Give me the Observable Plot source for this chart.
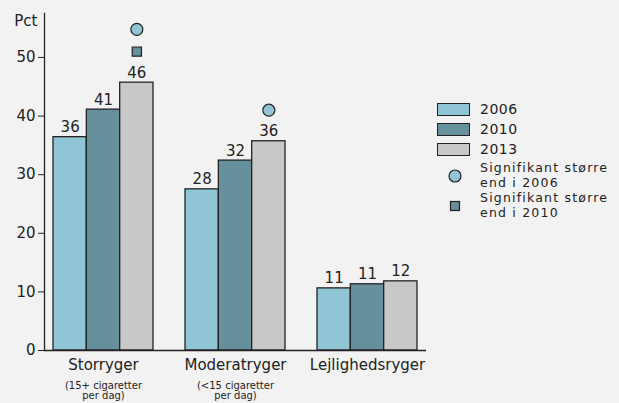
<!DOCTYPE html>
<html><head><meta charset="utf-8">
<script src="https://cdn.jsdelivr.net/npm/d3@7"></script>
<script src="https://cdn.jsdelivr.net/npm/@observablehq/plot@0.6"></script>
<style>
body{margin:0;background:#f2f2f2;}
#wrap{position:relative;width:619px;height:403px;font-family:"DejaVu Sans",sans-serif;color:#222;background:#f2f2f2;}
#legend{position:absolute;left:437px;top:102px;font-size:14px;}
.row{position:absolute;left:0;white-space:nowrap;display:flex;align-items:center;}
.sw{width:33px;height:13px;border:1px solid #222;box-sizing:border-box;}
.lt{margin-left:10px;line-height:14px;letter-spacing:0.5px;}
.lt2{margin-left:10px;font-size:12.5px;line-height:14.6px;letter-spacing:1.2px;}
</style></head><body><div id="wrap"><div id="legend"></div></div>
<script>
const categories = ["Storryger", "Moderatryger", "Lejlighedsryger"];
const subLabels = ["(15+ cigaretter\nper dag)", "(<15 cigaretter\nper dag)", ""];
const years = ["2006", "2010", "2013"];
const values2006 = [36.4, 27.5, 10.6];
const values2010 = [41.1, 32.4, 11.3];
const values2013 = [45.7, 35.7, 11.8];
const valueLabels2006 = ["36", "28", "11"];
const valueLabels2010 = ["41", "32", "11"];
const valueLabels2013 = ["46", "36", "12"];
// significance markers above the 2013 bars
const sigVs2006 = [54.8, 41.0, null];
const sigVs2010 = [51.0, null, null];
const colors = ["#8fc5d5", "#66909c", "#c8c8c8"];
const yTicks = [0, 10, 20, 30, 40, 50];

const series = [values2006, values2010, values2013];
const seriesLabels = [valueLabels2006, valueLabels2010, valueLabels2013];
const data = [];
categories.forEach((c, i) => years.forEach((yr, j) => data.push({cat: c, year: yr, value: series[j][i], label: seriesLabels[j][i]})));
const subData = categories.map((c, i) => ({cat: c, sub: subLabels[i]}));
const sig1 = categories.map((c, i) => ({cat: c, v: sigVs2006[i]})).filter(d => d.v != null);
const sig2 = categories.map((c, i) => ({cat: c, v: sigVs2010[i]})).filter(d => d.v != null);

const xOpts = {type: "band", domain: categories, range: [44, 426], paddingInner: 0.245, paddingOuter: 0.064};
const bw = Plot.scale({x: xOpts}).bandwidth;
const third = bw / 3;
const font = "DejaVu Sans, sans-serif";
const ink = "#222";

const barMarks = years.map((yr, j) => Plot.barY(data.filter(d => d.year === yr), {
  x: "cat", y: "value", fill: colors[j], stroke: ink, strokeWidth: 1.3,
  insetLeft: j * third, insetRight: (2 - j) * third
}));
const labelMarks = years.map((yr, j) => Plot.text(data.filter(d => d.year === yr), {
  x: "cat", y: "value", text: "label", dx: (j - 1) * third, dy: -5, lineAnchor: "bottom", fontSize: 15, fill: ink
}));

const plot = Plot.plot({
  width: 619, height: 403,
  marginLeft: 44, marginRight: 193, marginTop: 13, marginBottom: 53,
  style: {background: "transparent", fontFamily: font, fontSize: "15px", color: ink, overflow: "visible"},
  x: {...xOpts, axis: null},
  y: {domain: [0, 57.5], axis: null},
  marks: [
    ...barMarks,
    Plot.ruleY([0], {stroke: ink, strokeWidth: 1.3}),
    Plot.axisY({ticks: yTicks, tickSize: 6, tickPadding: 3, label: null, fontSize: 15, stroke: ink, fill: ink}),
    Plot.frame({anchor: "left", stroke: ink, strokeWidth: 1.3}),
    Plot.axisX({tickSize: 0, tickPadding: 9, fontSize: 15, fill: ink, label: null}),
    Plot.text(subData, {x: "cat", text: "sub", frameAnchor: "bottom", dy: 31, lineAnchor: "top", fontSize: 10, lineHeight: 1.0, fill: ink}),
    ...labelMarks,
    Plot.dot(sig1, {x: "cat", y: "v", dx: third, r: 6, fill: colors[0], stroke: ink, strokeWidth: 1.2}),
    Plot.dot(sig2, {x: "cat", y: "v", dx: third, r: 5.2, symbol: "square", fill: colors[1], stroke: ink, strokeWidth: 1.2}),
    Plot.text(["Pct"], {frameAnchor: "top-left", dx: -7, dy: 8, textAnchor: "end", lineAnchor: "middle", fontSize: 15, fill: ink})
  ]
});
const wrap = document.getElementById("wrap");
wrap.insertBefore(plot, wrap.firstChild);

// legend
const legend = document.getElementById("legend");
const rows = [
  {top: 0, html: `<div class="sw" style="background:${colors[0]}"></div><div class="lt">${years[0]}</div>`},
  {top: 20, html: `<div class="sw" style="background:${colors[1]}"></div><div class="lt">${years[1]}</div>`},
  {top: 40, html: `<div class="sw" style="background:${colors[2]}"></div><div class="lt">${years[2]}</div>`},
  {top: 59.4, html: `<svg width="33" height="14"><circle cx="18" cy="7" r="6" fill="${colors[0]}" stroke="${ink}" stroke-width="1.2"/></svg><div class="lt2">Signifikant større<br>end i 2006</div>`},
  {top: 89.4, html: `<svg width="33" height="14"><rect x="13.5" y="2.5" width="9" height="9" fill="${colors[1]}" stroke="${ink}" stroke-width="1.2"/></svg><div class="lt2">Signifikant større<br>end i 2010</div>`}
];
rows.forEach(r => {
  const d = document.createElement("div");
  d.className = "row";
  d.style.top = r.top + "px";
  d.innerHTML = r.html;
  legend.appendChild(d);
});
</script>
</body></html>
